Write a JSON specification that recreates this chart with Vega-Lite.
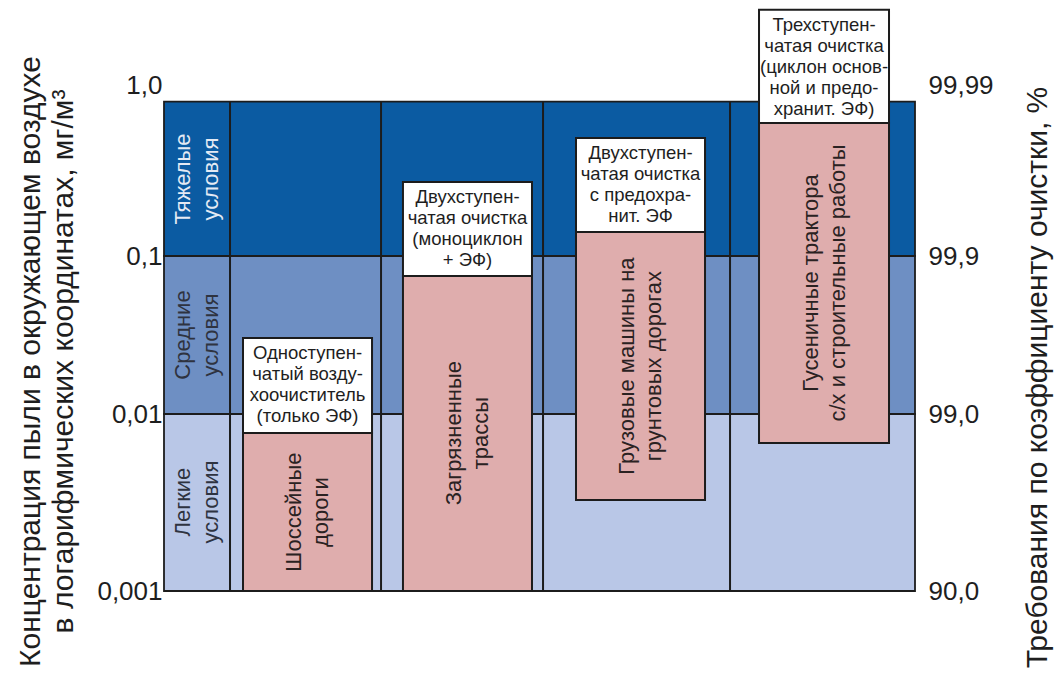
{
  "$schema": "https://vega.github.io/schema/vega-lite/v6.json",
  "autosize": {"type": "none"},
  "width": 751,
  "height": 506,
  "padding": {"left": 164, "top": 85, "right": 139, "bottom": 85},
  "background": "white",
  "config": {"view": {"stroke": null}, "font": "Liberation Sans"},
  "datasets": {
    "bands": [
      {"cond": "Легкие\nусловия", "level": "light", "lo": 0.001, "hi": 0.01, "mid": 0.00318},
      {"cond": "Средние\nусловия", "level": "medium", "lo": 0.01, "hi": 0.1, "mid": 0.0316},
      {"cond": "Тяжелые\nусловия", "level": "heavy", "lo": 0.1, "hi": 0.8, "mid": 0.282}
    ],
    "dividers": [{"x": 8.79}, {"x": 28.9}, {"x": 50.47}, {"x": 75.37}],
    "columns": [
      {"x0": 10.52, "x1": 27.7, "xm": 19.11, "lo": 0.001, "top": 0.0078, "boxtop": 0.0303, "barmid": 0.00279,
       "box": "Одноступен-\nчатый возду-\nхоочиститель\n(только ЭФ)", "bar": "Шоссейные\nдороги"},
      {"x0": 31.82, "x1": 49.0, "xm": 40.41, "lo": 0.001, "top": 0.0747, "boxtop": 0.271, "barmid": 0.0078,
       "box": "Двухступен-\nчатая очистка\n(моноциклон\n+ ЭФ)", "bar": "Загрязненные\nтрассы"},
      {"x0": 54.86, "x1": 72.04, "xm": 63.45, "lo": 0.00327, "top": 0.138, "boxtop": 0.49, "barmid": 0.0201,
       "box": "Двухступен-\nчатая очистка\nс предохра-\nнит. ЭФ", "bar": "Грузовые машины на\nгрунтовых дорогах"},
      {"x0": 79.23, "x1": 96.54, "xm": 87.89, "lo": 0.00686, "top": 0.6, "boxtop": 2.75, "barmid": 0.0675,
       "box": "Трехступен-\nчатая очистка\n(циклон основ-\nной и предо-\nхранит. ЭФ)", "bar": "Гусеничные трактора\nс/х и строительные работы"}
    ]
  },
  "resolve": {"axis": {"y": "independent"}},
  "layer": [
    {
      "data": {"name": "bands"},
      "mark": {"type": "rect", "stroke": "#1c1c1c", "strokeWidth": 1.8},
      "encoding": {
        "x": {"datum": 0, "type": "quantitative", "scale": {"domain": [0, 100], "nice": false, "zero": false}, "axis": null},
        "x2": {"datum": 100},
        "y": {"field": "lo", "type": "quantitative",
              "scale": {"type": "log", "domain": [0.001, 0.01, 0.1, 1], "range": [506, 329, 171, 0], "nice": false},
              "axis": {"orient": "left", "values": [0.001, 0.01, 0.1, 1], "domain": false, "ticks": false, "grid": false,
                       "labelExpr": "datum.value >= 0.99 ? '1,0' : datum.value >= 0.099 ? '0,1' : datum.value >= 0.0099 ? '0,01' : '0,001'",
                       "labelFontSize": 26, "labelColor": "#1e1e1e", "labelPadding": 2, "labelFont": "Liberation Sans",
                       "title": ["Концентрация пыли в окружающем воздухе", "в логарифмических координатах, мг/м³"],
                       "titleFontSize": 30, "titleFontWeight": "normal", "titleColor": "#1e1e1e", "titleFont": "Liberation Sans",
                       "titleLineHeight": 33, "titleAngle": -90, "titleAlign": "center", "titleBaseline": "middle",
                       "titleX": -134, "titleY": 276}},
        "y2": {"field": "hi"},
        "color": {"field": "level", "type": "nominal",
                  "scale": {"domain": ["light", "medium", "heavy"], "range": ["#b9c7e7", "#6e8fc3", "#0b5ba2"]}, "legend": null}
      }
    },
    {
      "data": {"name": "dividers"},
      "mark": {"type": "rule", "color": "#1c1c1c", "strokeWidth": 2},
      "encoding": {
        "x": {"field": "x", "type": "quantitative"},
        "y": {"datum": 0.001, "type": "quantitative", "axis": null},
        "y2": {"datum": 0.8}
      }
    },
    {
      "data": {"name": "columns"},
      "mark": {"type": "rect", "fill": "#dfadad", "stroke": "#1c1c1c", "strokeWidth": 2},
      "encoding": {
        "x": {"field": "x0", "type": "quantitative"},
        "x2": {"field": "x1"},
        "y": {"field": "lo", "type": "quantitative", "axis": null},
        "y2": {"field": "top"}
      }
    },
    {
      "data": {"name": "columns"},
      "mark": {"type": "rect", "fill": "#ffffff", "stroke": "#1c1c1c", "strokeWidth": 2},
      "encoding": {
        "x": {"field": "x0", "type": "quantitative"},
        "x2": {"field": "x1"},
        "y": {"field": "top", "type": "quantitative", "axis": null},
        "y2": {"field": "boxtop"}
      }
    },
    {
      "data": {"name": "columns"},
      "mark": {"type": "text", "fontSize": 18.5, "lineHeight": 21, "lineBreak": "\n", "color": "#1e1e1e", "align": "center", "baseline": "middle", "dy": 15.5},
      "encoding": {
        "x": {"field": "xm", "type": "quantitative"},
        "y": {"field": "boxtop", "type": "quantitative", "axis": null},
        "text": {"field": "box"}
      }
    },
    {
      "data": {"name": "columns"},
      "mark": {"type": "text", "fontSize": 22, "lineHeight": 27, "lineBreak": "\n", "angle": 270, "color": "#2a2222", "align": "center", "baseline": "middle", "dy": -13.5},
      "encoding": {
        "x": {"field": "xm", "type": "quantitative"},
        "y": {"field": "barmid", "type": "quantitative", "axis": null},
        "text": {"field": "bar"}
      }
    },
    {
      "data": {"name": "bands"},
      "mark": {"type": "text", "fontSize": 22, "lineHeight": 28, "lineBreak": "\n", "angle": 270, "align": "center", "baseline": "middle", "dy": -14},
      "encoding": {
        "x": {"datum": 4.39, "type": "quantitative"},
        "y": {"field": "mid", "type": "quantitative",
              "axis": {"orient": "right", "values": [0.001, 0.01, 0.1, 1], "domain": false, "ticks": false, "grid": false,
                       "labelExpr": "datum.value >= 0.99 ? '99,99' : datum.value >= 0.099 ? '99,9' : datum.value >= 0.0099 ? '99,0' : '90,0'",
                       "labelFontSize": 26, "labelColor": "#1e1e1e", "labelPadding": 13, "labelAlign": "left", "labelFont": "Liberation Sans",
                       "title": "Требования по коэффициенту очистки, %",
                       "titleFontSize": 30, "titleFontWeight": "normal", "titleColor": "#1e1e1e", "titleFont": "Liberation Sans",
                       "titleAngle": -90, "titleAlign": "center", "titleBaseline": "middle",
                       "titleX": 122, "titleY": 292}},
        "text": {"field": "cond"},
        "color": {"condition": {"test": "datum.level === 'heavy'", "value": "#e4eaf4"}, "value": "#2e3340"}
      }
    }
  ]
}
